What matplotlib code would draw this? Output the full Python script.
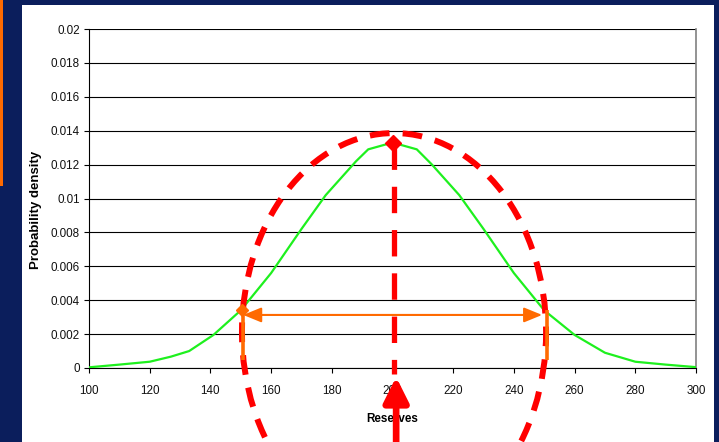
import numpy as np
import matplotlib
matplotlib.use("Agg")
import matplotlib.pyplot as plt
from matplotlib.patches import Ellipse, Rectangle

plt.rcParams['font.family'] = ['Liberation Sans', 'DejaVu Sans']

# ---- data ----
reserves = [100, 110, 120, 127, 133, 141, 150, 160, 170, 178, 188, 192, 200,
            208, 213, 222, 230, 240, 250, 260, 270, 280, 290, 300]
density = [0.00004, 0.0002, 0.00037, 0.00067, 0.001, 0.00195, 0.0034, 0.0056,
           0.0082, 0.0102, 0.0122, 0.0129, 0.0133, 0.0129, 0.012, 0.0102,
           0.0082, 0.0056, 0.0034, 0.00195, 0.0009, 0.00037, 0.0002, 0.00005]
x_ticks = [100, 120, 140, 160, 180, 200, 220, 240, 260, 280, 300]
y_ticks = [0, 0.002, 0.004, 0.006, 0.008, 0.01, 0.012, 0.014, 0.016, 0.018, 0.02]
y_tick_labels = ['0', '0.002', '0.004', '0.006', '0.008', '0.01', '0.012',
                 '0.014', '0.016', '0.018', '0.02']
low_case = 150.8    # left orange marker
high_case = 250.8   # right orange marker
low_density = 0.0034

NAVY = '#0B1E5C'
GREEN = '#1EF01E'
RED = '#FF0000'
ORANGE = '#FF6A00'

fig = plt.figure(figsize=(7.19, 4.42), dpi=100, facecolor=NAVY)
W, H = 719, 442

# white panel and orange strip
fig.patches.append(Rectangle((22 / W, 0), 692 / W, (H - 5) / H, transform=fig.transFigure,
                             facecolor='white', edgecolor='none', zorder=-5))
fig.patches.append(Rectangle((0, 1 - 186 / H), 3 / W, 186 / H, transform=fig.transFigure,
                             facecolor=ORANGE, edgecolor='none', zorder=-5))

ax = fig.add_axes([89 / W, 1 - 368 / H, (696 - 89) / W, (368 - 29) / H])
ax.set_facecolor('white')

ax.plot(reserves, density, color=GREEN, lw=1.6, zorder=3)

ax.set_xlim(100, 300)
ax.set_ylim(0, 0.02)
ax.set_xticks(x_ticks)
ax.set_xticklabels([str(t) for t in x_ticks])
ax.set_yticks(y_ticks)
ax.set_yticklabels(y_tick_labels)
ax.tick_params(axis='both', direction='out', length=3.5, width=0.8, colors='black',
               labelsize=8.4, labelcolor='#111111')
ax.tick_params(axis='x', pad=9)
ax.tick_params(axis='y', pad=3)
ax.yaxis.grid(True, color='black', lw=0.8)
ax.set_axisbelow(True)
ax.spines['top'].set_visible(False)
ax.spines['right'].set_color('#808080')
ax.spines['right'].set_linewidth(1.2)
ax.spines['left'].set_color('black')
ax.spines['bottom'].set_color('black')

ax.set_xlabel('Reserves', fontsize=8.4, fontweight='bold')
ax.xaxis.set_label_coords(0.5, -0.133)
ax.xaxis.label.set_va('top')
ax.set_ylabel('Probability density', fontsize=9.5, fontweight='bold')
ax.yaxis.set_label_coords(-0.077, 0.465)

# ---- annotations ----
peak_i = int(np.argmax(density))
mode_x = reserves[peak_i] + 0.5
mode_y = density[peak_i]

# red dashed ellipse
ell = Ellipse((mode_x, 0.00212), width=100.2, height=0.02348, transform=ax.transData,
              fill=False, edgecolor=RED, lw=4.3, linestyle=(0, (3.3, 2.2)),
              clip_on=False, zorder=6)
ax.add_patch(ell)

# red dashed vertical line from peak
ax.plot([mode_x, mode_x], [mode_y, -0.00035], color=RED, lw=3.8,
        linestyle=(0, (5, 3.2)), clip_on=False, zorder=6, solid_capstyle='butt')
ax.plot([reserves[peak_i]], [mode_y], marker='D', color=RED, markersize=8, zorder=7,
        clip_on=False)

# red arrow from below
ax.annotate('', xy=(mode_x + 0.7, -0.00053), xytext=(mode_x + 0.7, -0.0046),
            xycoords='data', textcoords='data', annotation_clip=False,
            arrowprops=dict(arrowstyle='-|>,head_length=1.0,head_width=0.5',
                            mutation_scale=15, lw=4.8, color=RED,
                            shrinkA=0, shrinkB=0), zorder=7)

# orange range markers
for xv in (low_case, high_case):
    ax.plot([xv, xv], [low_density, 0.00047], color=ORANGE, lw=2.6, zorder=8,
            solid_capstyle='butt')
ax.plot([low_case - 0.5], [low_density + 0.00002], marker='D', color=ORANGE,
        markersize=6.5, zorder=9)
ax.annotate('', xy=(low_case, 0.00313), xytext=(high_case - 1.5, 0.00313),
            annotation_clip=False,
            arrowprops=dict(arrowstyle='<|-|>,head_length=1.1,head_width=0.45',
                            mutation_scale=10, lw=1.5, color=ORANGE,
                            shrinkA=0, shrinkB=0), zorder=9)

fig.savefig('out.png', dpi=100, facecolor=NAVY)
